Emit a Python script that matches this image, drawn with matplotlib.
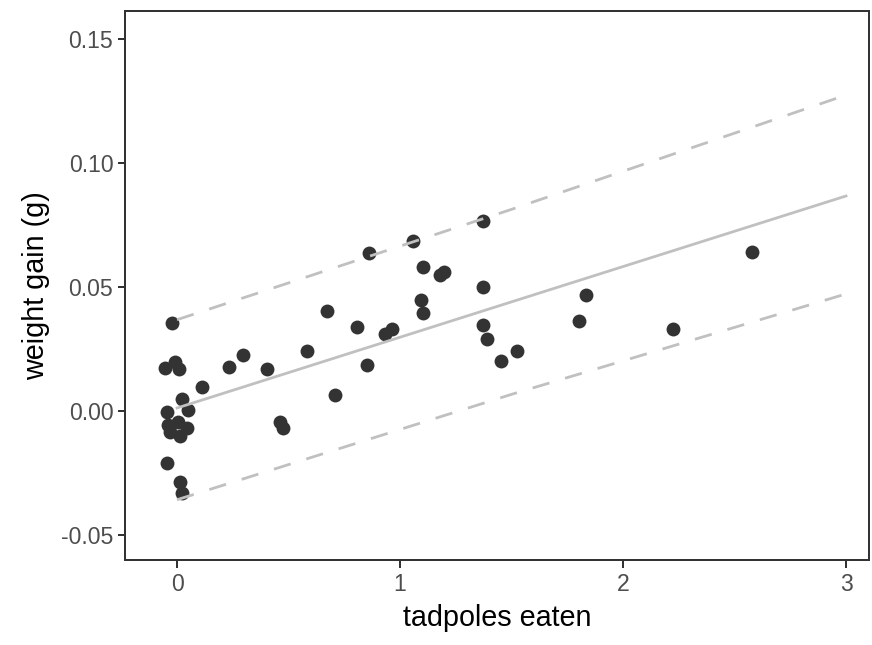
"""Weight gain against tadpoles eaten, with fitted line and prediction band."""

import matplotlib

matplotlib.use("Agg")
import matplotlib.pyplot as plt

DPI = 100

matplotlib.rcParams.update(
    {
        "font.family": ["Liberation Sans", "DejaVu Sans"],
        "axes.linewidth": 1.44,
        "axes.edgecolor": "#333333",
    }
)

TADPOLES = [
    1.374, 1.057, 0.862, 1.105, 1.179, 1.197, 1.374, 1.094, 1.105, 0.671,
    0.806, 0.933, 0.963, 1.374, 1.392, 1.526, 1.453, 0.582, 0.295, 0.233,
    0.402, 0.851, 0.111, 0.709, 0.462, 0.477, 2.577, 1.833, 1.804, 2.226,
    -0.024, -0.054, -0.009, 0.010, 0.021, -0.043, 0.049, 0.006, -0.031,
    0.043, 0.013, -0.040, -0.046, 0.013, 0.021,
]
WEIGHT_GAIN = [
    0.0766, 0.0685, 0.0638, 0.0582, 0.0548, 0.0562, 0.0499, 0.0448, 0.0394, 0.0403,
    0.0340, 0.0309, 0.0331, 0.0347, 0.0290, 0.0242, 0.0200, 0.0242, 0.0226, 0.0179,
    0.0168, 0.0185, 0.0096, 0.0065, -0.0043, -0.0070, 0.0642, 0.0468, 0.0363, 0.0329,
    0.0354, 0.0172, 0.0199, 0.0168, 0.0048, -0.0003, 0.0004, -0.0043, -0.0083,
    -0.0070, -0.0101, -0.0056, -0.0208, -0.0285, -0.0332,
]

# fitted line and prediction interval
FIT_X = [0.0, 1.5, 3.0]
FIT_Y = [0.0012, 0.0440, 0.0867]
UPPER_Y = [0.0368, 0.0813, 0.1274]
LOWER_Y = [-0.0358, 0.0067, 0.0472]

X_TICKS = [0, 1, 2, 3]
Y_TICKS = [-0.05, 0.00, 0.05, 0.10, 0.15]
Y_TICK_LABELS = ["-0.05", "0.00", "0.05", "0.10", "0.15"]

POINT_COLOR = "#333333"
LINE_COLOR = "#C0C0C0"


def main():
    fig = plt.figure(figsize=(8.72, 6.45), dpi=DPI)
    ax = fig.add_axes([125 / 872, 85 / 645, 744 / 872, 549 / 645])

    ax.scatter(TADPOLES, WEIGHT_GAIN, s=100, color=POINT_COLOR, linewidths=0, zorder=2)
    ax.plot(FIT_X, FIT_Y, color=LINE_COLOR, linewidth=2.0, zorder=3)
    for band in (UPPER_Y, LOWER_Y):
        ax.plot(FIT_X, band, color=LINE_COLOR, linewidth=2.0, dashes=(6.3, 5.9), zorder=3)

    ax.set_xlim(-0.2332, 3.1031)
    ax.set_ylim(-0.0601, 0.1613)
    ax.set_xticks(X_TICKS)
    ax.set_yticks(Y_TICKS)
    ax.set_yticklabels(Y_TICK_LABELS)
    ax.tick_params(
        axis="both", length=5.4, width=1.44, color="#333333",
        labelcolor="#4D4D4D", labelsize=16.6,
    )
    ax.tick_params(axis="x", pad=4)
    ax.tick_params(axis="y", pad=3)

    ax.set_xlabel("tadpoles eaten", fontsize=20.7, color="black", labelpad=6)
    ax.set_ylabel("weight gain (g)", fontsize=20.7, color="black", labelpad=8)

    fig.savefig("out.png", dpi=DPI)
    plt.close(fig)


if __name__ == "__main__":
    main()
